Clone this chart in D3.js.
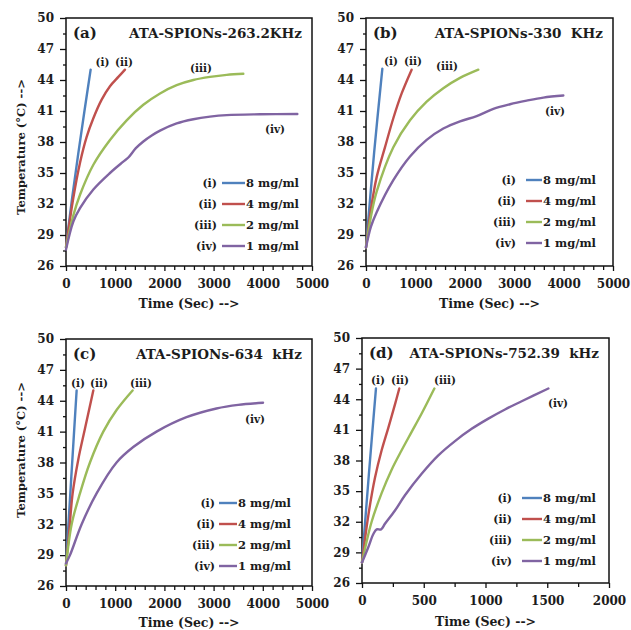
<!DOCTYPE html>
<html>
<head>
<meta charset="utf-8">
<script src="https://cdn.jsdelivr.net/npm/d3@7"></script>
<style>
  body { margin: 0; background: #fff; }
  svg { display: block; }
  text { font-family: "DejaVu Serif", serif; font-weight: bold; fill: #1c1c1c; }
</style>
</head>
<body>
<div id="chart"></div>
<script>
// [time (s), temperature (°C)]
const a_i   = [[0, 27.8], [125, 32.6], [250, 36.9], [375, 41.0], [501, 45.0]];
const a_ii  = [[0, 27.8], [149, 32.6], [285, 36.0], [420, 38.5], [556, 40.3], [725, 42.1], [894, 43.4], [1064, 44.3], [1199, 45.0]];
const a_iii = [[0, 27.8], [149, 30.9], [285, 32.9], [556, 35.8], [894, 38.2], [1233, 40.1], [1572, 41.6], [1911, 42.7], [2249, 43.5], [2588, 44.0], [2927, 44.3], [3266, 44.5], [3604, 44.6]];
const a_iv  = [[0, 27.6], [149, 30.3], [285, 31.6], [556, 33.4], [894, 35.0], [1165, 36.1], [1267, 36.5], [1420, 37.4], [1572, 38.05], [1750, 38.65], [1911, 39.1], [2249, 39.8], [2588, 40.2], [2927, 40.45], [3266, 40.6], [3943, 40.68], [4702, 40.71]];

const b_i   = [[0, 27.8], [165, 37.0], [331, 45.1]];
const b_ii  = [[0, 27.8], [100, 31.5], [216, 34.6], [385, 37.5], [553, 40.3], [722, 42.7], [924, 45.0]];
const b_iii = [[0, 27.8], [100, 30.8], [216, 33.2], [553, 37.5], [891, 40.1], [1228, 41.9], [1565, 43.2], [1903, 44.2], [2274, 45.0]];
const b_iv  = [[0, 27.8], [100, 29.8], [216, 31.2], [553, 34.3], [891, 36.6], [1228, 38.2], [1565, 39.3], [1903, 40.0], [2240, 40.5], [2578, 41.2], [2915, 41.65], [3252, 42.0], [3590, 42.3], [3995, 42.5]];

const c_i   = [[0, 28.0], [108, 36.6], [216, 45.0]];
const c_ii  = [[0, 28.0], [60, 31], [135, 35], [250, 38.3], [386, 41.3], [555, 45]];
const c_iii = [[0, 28.0], [115, 32], [284, 35], [487, 38], [758, 41], [1028, 43.1], [1353, 45]];
const c_iv  = [[0, 28.2], [81, 29], [318, 32], [622, 35], [1028, 38], [1367, 39.5], [1840, 41], [2449, 42.4], [3058, 43.25], [3500, 43.6], [4005, 43.8]];

const d_i   = [[0, 28.0], [56, 36.7], [113, 45.05]];
const d_ii  = [[0, 28.0], [51, 32.6], [105, 36.3], [159, 39.0], [213, 41.2], [267, 43.5], [302, 45.05]];
const d_iii = [[0, 28.0], [78, 32.0], [159, 34.8], [240, 37.1], [321, 39.0], [402, 40.8], [483, 42.6], [586, 45.05]];
const d_iv  = [[0, 28.0], [51, 29.5], [92, 30.8], [119, 31.25], [154, 31.25], [186, 31.8], [267, 33.1], [348, 34.6], [483, 36.7], [618, 38.5], [753, 39.9], [888, 41.1], [1023, 42.1], [1158, 43.0], [1293, 43.8], [1509, 45.05]];

const romans = ["(i)", "(ii)", "(iii)", "(iv)"];
const concs = ["8 mg/ml", "4 mg/ml", "2 mg/ml", "1 mg/ml"];
const colors = ["#4f81bd", "#c0504d", "#9bbb59", "#8064a2"];
const yTicks = [26, 29, 32, 35, 38, 41, 44, 47, 50];
const xTicksLong = [0, 1000, 2000, 3000, 4000, 5000];
const xTicksShort = [0, 500, 1000, 1500, 2000];

const panels = [
  { tag: "(a)", title: "ATA-SPIONs-263.2KHz", series: [a_i, a_ii, a_iii, a_iv], xMax: 5000, xTicks: xTicksLong, xMinor: 200,
    box: [66, 312, 18, 266], yTitle: 147, xTitle: 304,
    marks: [[742, 45.74], [1179, 45.74], [2744, 45.16], [4248, 39.25]],
    legend: { lab: 217, l0: 222, l1: 245, rows: [183, 204, 225, 246] } },
  { tag: "(b)", title: "ATA-SPIONs-330  KHz", series: [b_i, b_ii, b_iii, b_iv], xMax: 5000, xTicks: xTicksLong, xMinor: 200,
    box: [366, 613, 18, 266], yTitle: null, xTitle: 304,
    marks: [[506, 45.84], [951, 45.84], [1640, 45.35], [3826, 41.0]],
    legend: { lab: 516, l0: 526, l1: 542, rows: [180, 201, 222, 243] } },
  { tag: "(c)", title: "ATA-SPIONs-634  kHz", series: [c_i, c_ii, c_iii, c_iv], xMax: 5000, xTicks: xTicksLong, xMinor: 200,
    box: [66, 312, 339, 586], yTitle: 450, xTitle: 623,
    marks: [[244, 45.72], [671, 45.72], [1524, 45.72], [3841, 42.2]],
    legend: { lab: 215, l0: 219, l1: 237, rows: [503, 524, 545, 566] } },
  { tag: "(d)", title: "ATA-SPIONs-752.39  kHz", series: [d_i, d_ii, d_iii, d_iv], xMax: 2000, xTicks: xTicksShort, xMinor: 250,
    box: [362, 609, 338, 583], yTitle: null, xTitle: 622,
    marks: [[130, 45.89], [308, 45.89], [672, 45.89], [1587, 43.63]],
    legend: { lab: 512, l0: 522, l1: 542, rows: [498, 519, 540, 561] } }
];

const svg = d3.select("#chart").append("svg").attr("width", 631).attr("height", 630);

panels.forEach((p) => {
  const [x0, x1, y0, y1] = p.box;
  const x = d3.scaleLinear().domain([0, p.xMax]).range([x0, x1]);
  const y = d3.scaleLinear().domain([26, 50]).range([y1, y0]);
  const g = svg.append("g");

  // minor ticks
  const yMinor = d3.range(27.5, 50, 3);
  g.append("g").attr("transform", `translate(${x0},0)`)
    .call(d3.axisLeft(y).tickValues(yMinor).tickSize(3).tickFormat(""))
    .call((s) => s.select(".domain").remove());
  const xMinorVals = d3.range(0, p.xMax + 1, p.xMinor).filter((v) => !p.xTicks.includes(v));
  g.append("g").attr("transform", `translate(0,${y1})`)
    .call(d3.axisBottom(x).tickValues(xMinorVals).tickSize(4).tickFormat(""))
    .call((s) => s.select(".domain").remove());

  // major ticks
  g.append("g").attr("transform", `translate(${x0},0)`)
    .call(d3.axisLeft(y).tickValues(yTicks).tickSize(6).tickPadding(6).tickFormat(d3.format("d")))
    .call((s) => s.select(".domain").remove())
    .selectAll("text").style("font-size", "12px").attr("font-family", null);
  g.append("g").attr("transform", `translate(0,${y1})`)
    .call(d3.axisBottom(x).tickValues(p.xTicks).tickSize(5).tickPadding(8).tickFormat(d3.format("d")))
    .call((s) => s.select(".domain").remove())
    .selectAll("text").style("font-size", "12px").attr("font-family", null);
  g.selectAll(".tick line").attr("stroke", "#111").attr("stroke-width", 1.3);

  // frame
  g.append("rect").attr("x", x0).attr("y", y0).attr("width", x1 - x0).attr("height", y1 - y0)
    .attr("fill", "none").attr("stroke", "#111").attr("stroke-width", 1.5);

  // curves
  const line = d3.line().x((d) => x(d[0])).y((d) => y(d[1])).curve(d3.curveCatmullRom.alpha(0.5));
  p.series.forEach((s, i) => {
    g.append("path").datum(s).attr("d", line).attr("fill", "none")
      .attr("stroke", colors[i]).attr("stroke-width", 2.4).attr("stroke-linecap", "round");
  });

  // curve labels
  p.marks.forEach((m, i) => {
    g.append("text").attr("x", x(m[0])).attr("y", y(m[1])).attr("dy", "0.35em")
      .attr("text-anchor", "middle").style("font-size", "10.5px").text(romans[i]);
  });

  // headings
  g.append("text").attr("x", x0 + 7).attr("y", y0 + 15).attr("dy", "0.35em")
    .style("font-size", "15px").text(p.tag);
  g.append("text").attr("x", x1 - 10).attr("y", y0 + 15).attr("dy", "0.35em")
    .attr("text-anchor", "end").style("font-size", "13.5px").style("white-space", "pre")
    .attr("xml:space", "preserve").text(p.title);

  // legend
  const L = p.legend;
  L.rows.forEach((ry, i) => {
    g.append("text").attr("x", L.lab).attr("y", ry).attr("dy", "0.35em")
      .attr("text-anchor", "end").style("font-size", "11px").text(romans[i]);
    g.append("line").attr("x1", L.l0).attr("x2", L.l1).attr("y1", ry).attr("y2", ry)
      .attr("stroke", colors[i]).attr("stroke-width", 2.4);
    g.append("text").attr("x", L.l1 + 1).attr("y", ry).attr("dy", "0.35em")
      .style("font-size", "11.5px").text(concs[i]);
  });

  // axis titles
  g.append("text").attr("x", (x0 + x1) / 2).attr("y", p.xTitle).attr("dy", "0.35em")
    .attr("text-anchor", "middle").style("font-size", "12.5px").text("Time (Sec) -->");
  if (p.yTitle !== null) {
    g.append("text").attr("transform", `translate(21,${p.yTitle}) rotate(-90)`).attr("dy", "0.35em")
      .attr("text-anchor", "middle").style("font-size", "11.5px").text("Temperature (°C) -->");
  }
});
</script>
</body>
</html>
